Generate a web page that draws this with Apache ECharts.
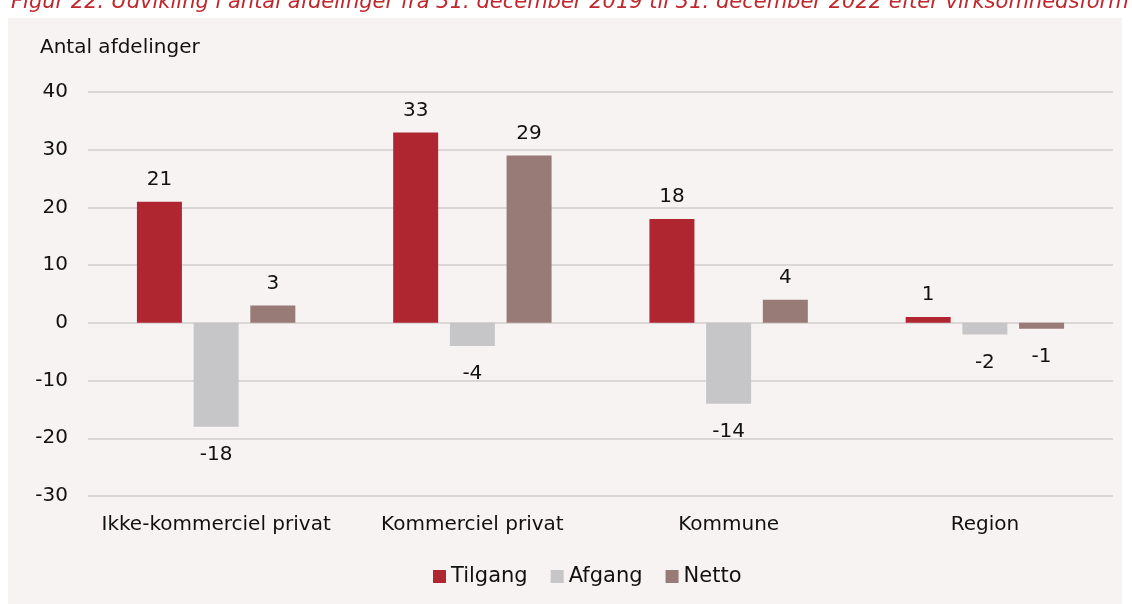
<!DOCTYPE html>
<html lang="da">
<head>
    <meta charset="UTF-8">
    <title>Antal afdelinger</title>
    <script src="https://cdn.jsdelivr.net/npm/echarts@6/dist/echarts.min.js"></script>
    <style>
        html, body { margin: 0; padding: 0; background: #fff; }
        #chart { width: 1132px; height: 604px; }
    </style>
</head>
<body>
<div id="chart"></div>
<script>
    var categories = ['Ikke-kommerciel privat', 'Kommerciel privat', 'Kommune', 'Region'];
    var tilgang = [21, 33, 18, 1];
    var afgang = [-18, -4, -14, -2];
    var netto = [3, 29, 4, -1];
    var seriesNames = ['Tilgang', 'Afgang', 'Netto'];
    var colors = ['#b02630', '#c6c6c8', '#987a76'];

    var font = '"DejaVu Sans", sans-serif';

    // negative bars get their label underneath
    function withLabels(arr) {
        return arr.map(function (v) {
            if (v < 0) {
                return { value: v, label: { position: 'bottom', distance: 18 } };
            }
            return { value: v };
        });
    }

    function makeSeries(name, data, color) {
        return {
            name: name,
            type: 'bar',
            data: withLabels(data),
            barWidth: 45,
            barGap: '26%',
            itemStyle: { color: color },
            label: {
                show: true,
                position: 'top',
                distance: 12,
                color: '#111',
                fontSize: 20,
                fontFamily: font
            }
        };
    }

    var myChart = echarts.init(document.getElementById('chart'));
    var option = {
        backgroundColor: '#fff',
        animation: false,
        title: {
            text: 'Figur 22: Udvikling i antal afdelinger fra 31. december 2019 til 31. december 2022 efter virksomhedsform',
            left: 6,
            top: -13,
            textStyle: {
                color: '#c0272d',
                fontStyle: 'italic',
                fontWeight: 'normal',
                fontSize: 21,
                fontFamily: font
            }
        },
        graphic: [
            {
                type: 'rect',
                z: -10,
                silent: true,
                shape: { x: 8, y: 18, width: 1114, height: 586 },
                style: { fill: '#f7f3f2' }
            },
            {
                type: 'text',
                left: 40,
                top: 38,
                style: {
                    text: 'Antal afdelinger',
                    fill: '#111',
                    font: '20px ' + font
                }
            }
        ],
        legend: {
            data: seriesNames,
            bottom: 12,
            left: 428,
            itemWidth: 13,
            itemHeight: 13,
            itemGap: 23,
            icon: 'rect',
            textStyle: { color: '#111', fontSize: 21, fontFamily: font }
        },
        grid: { left: 88, right: 19, top: 92, bottom: 108 },
        xAxis: {
            type: 'category',
            data: categories,
            axisLine: { show: false },
            axisTick: { show: false },
            axisLabel: { interval: 0, color: '#111', fontSize: 20, fontFamily: font, margin: 19 }
        },
        yAxis: {
            type: 'value',
            min: -30,
            max: 40,
            interval: 10,
            axisLine: { show: false },
            axisTick: { show: false },
            axisLabel: { color: '#111', fontSize: 20, fontFamily: font, margin: 20 },
            splitLine: { lineStyle: { color: '#dad7d6', width: 2 } }
        },
        series: [
            makeSeries(seriesNames[0], tilgang, colors[0]),
            makeSeries(seriesNames[1], afgang, colors[1]),
            makeSeries(seriesNames[2], netto, colors[2])
        ]
    };
    myChart.setOption(option);
</script>
</body>
</html>
